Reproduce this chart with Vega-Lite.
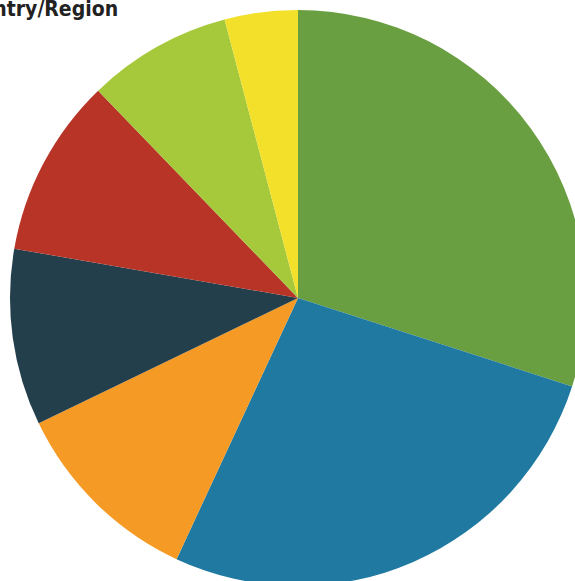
{
  "$schema": "https://vega.github.io/schema/vega-lite/v6.json",
  "width": 596,
  "height": 596,
  "padding": 0,
  "autosize": {"type": "none"},
  "background": "white",
  "title": {
    "text": "Country/Region",
    "anchor": "start",
    "frame": "bounds",
    "font": "DejaVu Sans Condensed",
    "fontWeight": "bold",
    "fontSize": 21,
    "color": "#222222",
    "dx": -47,
    "dy": 24
  },
  "data": {
    "values": [
      {"region": "A", "share": 29.95, "rank": 1},
      {"region": "B", "share": 26.95, "rank": 2},
      {"region": "C", "share": 10.9, "rank": 3},
      {"region": "D", "share": 9.9, "rank": 4},
      {"region": "E", "share": 10.05, "rank": 5},
      {"region": "F", "share": 8.1, "rank": 6},
      {"region": "G", "share": 4.1, "rank": 7}
    ]
  },
  "mark": {"type": "arc", "outerRadius": 288},
  "encoding": {
    "theta": {"field": "share", "type": "quantitative", "stack": true},
    "order": {"field": "rank", "type": "quantitative"},
    "color": {
      "field": "region",
      "type": "nominal",
      "scale": {
        "domain": ["A", "B", "C", "D", "E", "F", "G"],
        "range": ["#6a9f41", "#1f79a1", "#f59a24", "#243f4c", "#b73427", "#a6c93c", "#f2e02b"]
      },
      "legend": null
    }
  },
  "config": {"view": {"stroke": null}}
}
